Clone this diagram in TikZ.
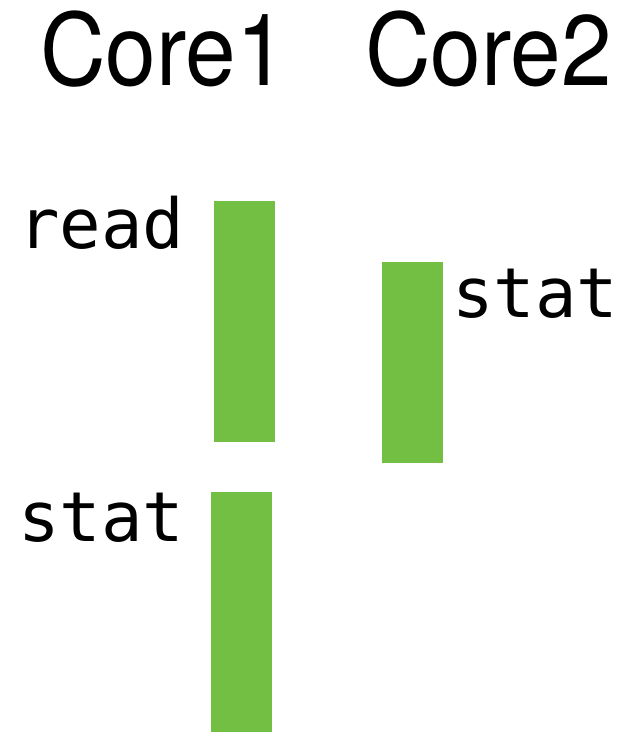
\documentclass[tikz,border=0pt]{standalone}
\usepackage{fontspec}
\setmainfont{TeX Gyre Heros}[FakeStretch=0.91]
\newfontfamily\codefont{DejaVu Sans Mono}
\definecolor{slicegreen}{RGB}{114,191,68}
\tikzset{
  corelabel/.style={inner sep=0pt, anchor=base west, font=\fontsize{100}{100}\selectfont},
  calllabel/.style={inner sep=0pt, anchor=base west, font=\codefont\fontsize{69}{69}\selectfont},
  slice/.style={fill=slicegreen, draw=none, inner sep=0pt, minimum width=61pt},
}
\begin{document}
\begin{tikzpicture}[x=1pt,y=-1pt]
  \useasboundingbox (0,0) rectangle (637,732);
  % column headers
  \node[corelabel] (core1) at (40,85) {Core1};
  \node[corelabel] (core2) at (365,85) {Core2};
  % time slices on each core
  \node[slice, minimum height=241pt] (read1) at (244.5,321.5) {};
  \node[slice, minimum height=201pt] (stat2) at (412,362.5) {};
  \node[slice, minimum height=240pt] (stat1) at (241,612) {};
  % system call names
  \node[calllabel] (readlbl) at (18,248) {read};
  \node[calllabel] (statlblb) at (452,317) {stat};
  \node[calllabel] (statlbla) at (18,541) {stat};
\end{tikzpicture}
\end{document}
